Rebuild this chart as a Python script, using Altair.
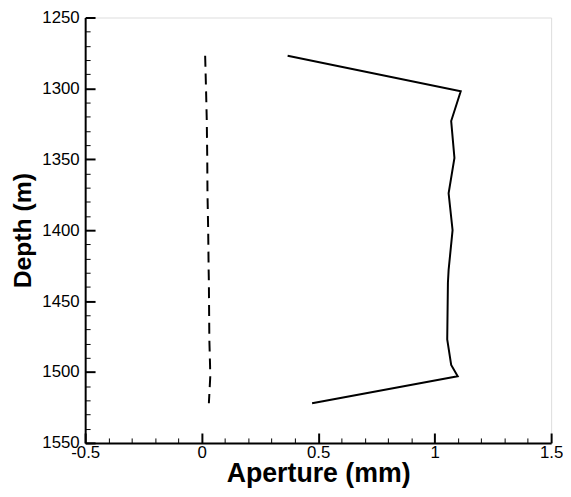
import altair as alt
import pandas as pd

depth = [1277, 1302, 1323, 1349, 1374, 1400, 1428, 1437, 1477, 1495, 1503, 1522]
solid = [0.369, 1.112, 1.071, 1.085, 1.060, 1.077, 1.060, 1.057, 1.054, 1.071, 1.099, 0.474]
dashed = [0.015, 0.019, 0.022, 0.024, 0.025, 0.028, 0.030, 0.031, 0.033, 0.036, 0.037, 0.031]

x_major = [-0.5, 0, 0.5, 1, 1.5]
x_minor = [round(-0.5 + 0.1 * i, 1) for i in range(21) if i % 5 != 0]
y_major = [1250, 1300, 1350, 1400, 1450, 1500, 1550]
y_minor = [1250 + 10 * i for i in range(31) if i % 5 != 0]

df = pd.DataFrame({"depth": depth + depth,
                   "aperture": solid + dashed,
                   "series": ["solid"] * len(depth) + ["dashed"] * len(depth)})

W, H = 471, 430
FONT = "Liberation Sans"

xscale = alt.Scale(domain=[-0.5, 1.5], nice=False, zero=False)
yscale = alt.Scale(domain=[1250, 1550], nice=False, zero=False, reverse=True)

base = alt.Chart(df)

main_x_axis = alt.Axis(values=x_major, ticks=False, tickSize=0, grid=False, domainColor="black",
                       domainWidth=2, labelFont=FONT, labelFontSize=17, labelColor="black",
                       labelPadding=2, labelFlush=False, labelOverlap=False,
                       labelExpr="toString(datum.value)",
                       title="Aperture (mm)", titleFont=FONT, titleFontSize=27,
                       titleFontWeight="bold", titleColor="black",
                       titleBaseline="alphabetic", titleY=39)
main_y_axis = alt.Axis(values=y_major, ticks=False, tickSize=0, grid=False, domainColor="black",
                       domainWidth=2, labelFont=FONT, labelFontSize=17, labelColor="black",
                       labelPadding=6, labelFlush=False, labelOverlap=False,
                       labelExpr="toString(datum.value)",
                       title="Depth (m)", titleFont=FONT, titleFontSize=25,
                       titleFontWeight="bold", titleColor="black", titlePadding=6)

solid_layer = base.transform_filter(alt.datum.series == "solid").mark_line(
    color="black", strokeWidth=2).encode(
    x=alt.X("aperture:Q", scale=xscale, axis=main_x_axis),
    y=alt.Y("depth:Q", scale=yscale, axis=main_y_axis),
    order=alt.Order("depth:Q"))

dashed_layer = base.transform_filter(alt.datum.series == "dashed").mark_line(
    color="black", strokeWidth=2, strokeDash=[11, 7]).encode(
    x=alt.X("aperture:Q", scale=xscale, axis=None),
    y=alt.Y("depth:Q", scale=yscale, axis=None),
    order=alt.Order("depth:Q"))


def tick_layer(xv, yv, size, width):
    return base.mark_line(opacity=0).encode(
        x=alt.X("aperture:Q", scale=xscale,
                axis=alt.Axis(orient="top", offset=-H, values=xv, labels=False, domain=False,
                              grid=False, tickSize=size, tickWidth=width, tickColor="black",
                              title=None)),
        y=alt.Y("depth:Q", scale=yscale,
                axis=alt.Axis(orient="right", offset=-W, values=yv, labels=False, domain=False,
                              grid=False, tickSize=size, tickWidth=width, tickColor="black",
                              title=None)),
        order=alt.Order("depth:Q"))


chart = alt.layer(
    solid_layer, dashed_layer,
    tick_layer(x_major, y_major, 10, 2),
    tick_layer(x_minor, y_minor, 5, 1),
).resolve_axis(x="independent", y="independent").properties(
    width=W, height=H,
    autosize=alt.AutoSizeParams(type="none"),
    padding={"left": 78, "top": 7, "right": 12, "bottom": 44},
).configure_view(stroke=None).configure(background="white")

chart.save("out.html", embed_options={"renderer": "svg", "actions": False})
